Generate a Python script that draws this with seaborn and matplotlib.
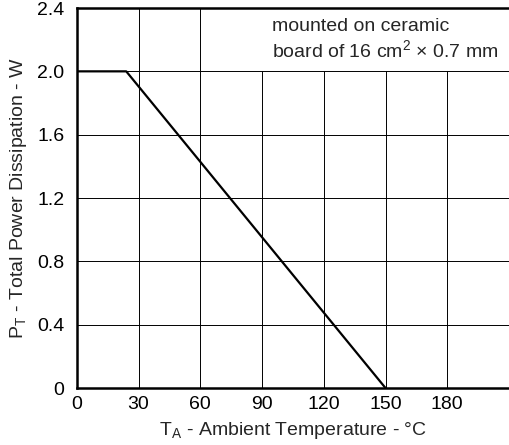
import matplotlib
matplotlib.use("Agg")
import matplotlib.pyplot as plt
import seaborn as sns
import pandas as pd
from matplotlib.patches import Rectangle

temperature = [0, 24, 150]
power = [2.0, 2.0, 0.0]
x_ticks = [0, 30, 60, 90, 120, 150, 180]
y_ticks = [0, 0.4, 0.8, 1.2, 1.6, 2.0, 2.4]
y_tick_labels = ["0", "0.4", "0.8", "1.2", "1.6", "2.0", "2.4"]

sns.set_style("white")
plt.rcParams["font.family"] = ["Liberation Sans", "DejaVu Sans"]
plt.rcParams["mathtext.fontset"] = "custom"
plt.rcParams["mathtext.rm"] = "Liberation Sans"
plt.rcParams["mathtext.it"] = "Liberation Sans"

FS = 14

fig = plt.figure(figsize=(5.09, 4.45), dpi=100)
ax = fig.add_axes([0.151, 0.128, 0.849, 0.854])

df = pd.DataFrame({"T": temperature, "P": power})
sns.lineplot(data=df, x="T", y="P", ax=ax, color="black", linewidth=1.6, zorder=3)

ax.set_xlim(0, 210)
ax.set_ylim(0, 2.4)
ax.set_xticks(x_ticks)
ax.set_yticks(y_ticks)
ax.set_yticklabels(y_tick_labels)
ax.tick_params(axis="both", length=0, labelsize=FS, colors="black")
ax.tick_params(axis="y", pad=9)
ax.tick_params(axis="x", pad=6)

ax.set_axisbelow(True)
ax.grid(True, color="black", linewidth=0.7)

ax.add_patch(Rectangle((90, 2.0), 120, 0.4, facecolor="white", edgecolor="none", zorder=1))
ax.text(95, 2.335, "mounted on ceramic\nboard of 16 cm$^2$ × 0.7 mm", fontsize=FS,
        va="top", ha="left", linespacing=1.2, zorder=4)

for side in ["left", "bottom", "top"]:
    ax.spines[side].set_visible(True)
    ax.spines[side].set_linewidth(1.8)
    ax.spines[side].set_color("black")
ax.spines["right"].set_visible(False)

ax.set_xlabel(r"T$_{\mathrm{A}}$ - Ambient Temperature - °C", fontsize=FS, labelpad=5)
ax.set_ylabel(r"P$_{\mathrm{T}}$ - Total Power Dissipation - W", fontsize=FS, labelpad=6)

fig.savefig("out.png", dpi=100)
